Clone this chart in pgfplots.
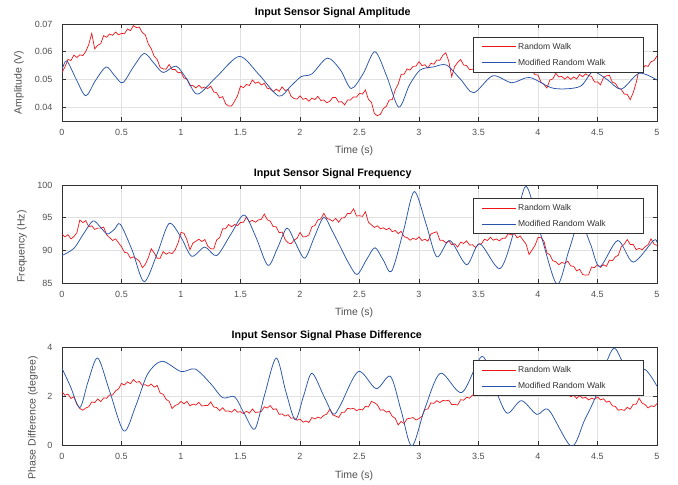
\documentclass[border=0pt]{standalone}
\usepackage{fontspec}
\setmainfont{Liberation Sans}
\usepackage{pgfplots}
\usepackage{pgfplotstable}
\pgfplotsset{compat=1.18}
\definecolor{rwred}{RGB}{240,20,25}
\definecolor{rwblue}{RGB}{40,85,170}
\definecolor{axgray}{RGB}{50,50,50}
\definecolor{labgray}{RGB}{80,80,80}
\definecolor{gridgray}{RGB}{225,225,225}

\pgfplotstableread[row sep=\\]{t v\\
0 0.0526\\ 0.025 0.0545\\ 0.05 0.0572\\ 0.075 0.0568\\ 0.1 0.0588\\ 0.125 0.0579\\ 0.15 0.0589\\ 0.175 0.0586\\ 0.2 0.0601\\ 0.225 0.0626\\
0.25 0.0666\\ 0.275 0.0610\\ 0.3 0.0623\\ 0.325 0.0629\\ 0.35 0.0658\\ 0.375 0.0652\\ 0.4 0.0664\\ 0.425 0.0659\\ 0.45 0.0671\\ 0.475 0.0661\\
0.5 0.0666\\ 0.525 0.0665\\ 0.55 0.0682\\ 0.575 0.0676\\ 0.6 0.0694\\ 0.625 0.0687\\ 0.65 0.0689\\ 0.675 0.0669\\ 0.7 0.0661\\ 0.725 0.0628\\
0.75 0.0611\\ 0.775 0.0583\\ 0.8 0.0572\\ 0.825 0.0543\\ 0.85 0.0538\\ 0.875 0.0537\\ 0.9 0.0554\\ 0.925 0.0536\\ 0.95 0.0536\\ 0.975 0.0524\\
1 0.0526\\ 1.025 0.0505\\ 1.05 0.0502\\ 1.075 0.0478\\ 1.1 0.0478\\ 1.125 0.0469\\ 1.15 0.0479\\ 1.175 0.0468\\ 1.2 0.0473\\ 1.225 0.0467\\
1.25 0.0476\\ 1.275 0.0455\\ 1.3 0.0452\\ 1.325 0.0433\\ 1.35 0.0438\\ 1.375 0.0412\\ 1.4 0.0404\\ 1.425 0.0404\\ 1.45 0.0421\\ 1.475 0.0441\\
1.5 0.0476\\ 1.525 0.0470\\ 1.55 0.0482\\ 1.575 0.0478\\ 1.6 0.0498\\ 1.625 0.0486\\ 1.65 0.0491\\ 1.675 0.0480\\ 1.7 0.0486\\ 1.725 0.0468\\
1.75 0.0466\\ 1.775 0.0456\\ 1.8 0.0465\\ 1.825 0.0457\\ 1.85 0.0473\\ 1.875 0.0460\\ 1.9 0.0464\\ 1.925 0.0439\\ 1.95 0.0431\\ 1.975 0.0429\\
2 0.0441\\ 2.025 0.0428\\ 2.05 0.0432\\ 2.075 0.0421\\ 2.1 0.0433\\ 2.125 0.0427\\ 2.15 0.0439\\ 2.175 0.0424\\ 2.2 0.0426\\ 2.225 0.0416\\
2.25 0.0421\\ 2.275 0.0435\\ 2.3 0.0435\\ 2.325 0.0418\\ 2.35 0.0420\\ 2.375 0.0408\\ 2.4 0.0426\\ 2.425 0.0426\\ 2.45 0.0437\\ 2.475 0.0436\\
2.5 0.0450\\ 2.525 0.0447\\ 2.55 0.0462\\ 2.575 0.0428\\ 2.6 0.0418\\ 2.625 0.0377\\ 2.65 0.0369\\ 2.675 0.0374\\ 2.7 0.0395\\ 2.725 0.0403\\
2.75 0.0426\\ 2.775 0.0427\\ 2.8 0.0462\\ 2.825 0.0483\\ 2.85 0.0518\\ 2.875 0.0519\\ 2.9 0.0538\\ 2.925 0.0534\\ 2.95 0.0547\\ 2.975 0.0548\\
3 0.0564\\ 3.025 0.0550\\ 3.05 0.0553\\ 3.075 0.0541\\ 3.1 0.0558\\ 3.125 0.0555\\ 3.15 0.0570\\ 3.175 0.0569\\ 3.2 0.0587\\ 3.225 0.0596\\
3.25 0.0566\\ 3.275 0.0510\\ 3.3 0.0547\\ 3.325 0.0561\\ 3.35 0.0572\\ 3.375 0.0552\\ 3.4 0.0550\\ 3.425 0.0535\\ 3.45 0.0537\\ 3.475 0.0533\\
3.5 0.0546\\ 3.525 0.0538\\ 3.55 0.0548\\ 3.575 0.0541\\ 3.6 0.0558\\ 3.625 0.0549\\ 3.65 0.0557\\ 3.675 0.0549\\ 3.7 0.0558\\ 3.725 0.0554\\
3.75 0.0566\\ 3.775 0.0553\\ 3.8 0.0557\\ 3.825 0.0546\\ 3.85 0.0558\\ 3.875 0.0545\\ 3.9 0.0549\\ 3.925 0.0531\\ 3.95 0.0531\\ 3.975 0.0517\\
4 0.0516\\ 4.025 0.0490\\ 4.05 0.0482\\ 4.075 0.0469\\ 4.1 0.0498\\ 4.125 0.0502\\ 4.15 0.0522\\ 4.175 0.0509\\ 4.2 0.0511\\ 4.225 0.0501\\
4.25 0.0510\\ 4.275 0.0500\\ 4.3 0.0509\\ 4.325 0.0502\\ 4.35 0.0518\\ 4.375 0.0510\\ 4.4 0.0520\\ 4.425 0.0514\\ 4.45 0.0511\\ 4.475 0.0491\\
4.5 0.0491\\ 4.525 0.0480\\ 4.55 0.0507\\ 4.575 0.0513\\ 4.6 0.0515\\ 4.625 0.0490\\ 4.65 0.0486\\ 4.675 0.0469\\ 4.7 0.0464\\ 4.725 0.0447\\
4.75 0.0446\\ 4.775 0.0427\\ 4.8 0.0452\\ 4.825 0.0488\\ 4.85 0.0536\\ 4.875 0.0535\\ 4.9 0.0550\\ 4.925 0.0547\\ 4.95 0.0564\\ 4.975 0.0568\\
5 0.0585\\
}\redA

\pgfplotstableread[row sep=\\]{t v\\
0 0.0534\\ 0.04 0.0567\\ 0.12 0.0500\\ 0.2 0.0441\\ 0.28 0.0495\\ 0.37 0.0545\\ 0.44 0.0515\\ 0.51 0.0488\\ 0.6 0.0545\\ 0.69 0.0594\\
0.77 0.0560\\ 0.85 0.0525\\ 0.96 0.0548\\ 1.05 0.0500\\ 1.14 0.0447\\ 1.3 0.0510\\ 1.49 0.0583\\ 1.65 0.0520\\ 1.82 0.0440\\ 1.92 0.0475\\
2.01 0.0510\\ 2.1 0.0520\\ 2.23 0.0577\\ 2.34 0.0534\\ 2.43 0.0467\\ 2.53 0.0520\\ 2.63 0.0600\\ 2.73 0.0510\\ 2.83 0.0400\\ 2.92 0.0480\\
3.01 0.0534\\ 3.12 0.0545\\ 3.23 0.0552\\ 3.35 0.0500\\ 3.46 0.0452\\ 3.62 0.0513\\ 3.78 0.0488\\ 3.93 0.0507\\ 4.13 0.0468\\ 4.35 0.0474\\
4.46 0.0527\\ 4.58 0.0500\\ 4.7 0.0465\\ 4.85 0.0522\\ 5 0.0498\\
}\blueA

\pgfplotstableread[row sep=\\]{t v\\
0 92.45\\ 0.025 92.05\\ 0.05 92.40\\ 0.075 91.75\\ 0.1 92.10\\ 0.125 92.70\\ 0.15 94.65\\ 0.175 94.25\\ 0.2 94.55\\ 0.225 93.60\\
0.25 93.75\\ 0.275 93.20\\ 0.3 93.40\\ 0.325 93.40\\ 0.35 93.55\\ 0.375 92.40\\ 0.4 91.95\\ 0.425 91.50\\ 0.45 91.75\\ 0.475 91.15\\
0.5 90.55\\ 0.525 89.70\\ 0.55 89.60\\ 0.575 88.80\\ 0.6 89.00\\ 0.625 88.70\\ 0.65 88.35\\ 0.675 87.35\\ 0.7 87.85\\ 0.725 88.85\\
0.75 90.25\\ 0.775 89.60\\ 0.8 88.80\\ 0.825 88.80\\ 0.85 89.80\\ 0.875 89.40\\ 0.9 89.65\\ 0.925 89.50\\ 0.95 90.05\\ 0.975 91.10\\
1 92.75\\ 1.025 92.60\\ 1.05 91.60\\ 1.075 90.10\\ 1.1 91.10\\ 1.125 91.40\\ 1.15 91.70\\ 1.175 91.35\\ 1.2 91.65\\ 1.225 90.65\\
1.25 90.25\\ 1.275 90.20\\ 1.3 91.60\\ 1.325 91.95\\ 1.35 93.30\\ 1.375 93.30\\ 1.4 93.95\\ 1.425 93.60\\ 1.45 93.95\\ 1.475 93.80\\
1.5 94.25\\ 1.525 94.30\\ 1.55 95.10\\ 1.575 94.35\\ 1.6 94.60\\ 1.625 94.30\\ 1.65 94.65\\ 1.675 94.75\\ 1.7 95.55\\ 1.725 94.70\\
1.75 94.45\\ 1.775 93.65\\ 1.8 93.60\\ 1.825 92.70\\ 1.85 92.80\\ 1.875 91.65\\ 1.9 91.15\\ 1.925 91.00\\ 1.95 91.55\\ 1.975 91.85\\
2 92.75\\ 2.025 92.05\\ 2.05 92.10\\ 2.075 92.35\\ 2.1 93.60\\ 2.125 93.80\\ 2.15 94.65\\ 2.175 94.80\\ 2.2 95.65\\ 2.225 94.90\\
2.25 94.75\\ 2.275 94.45\\ 2.3 94.90\\ 2.325 94.30\\ 2.35 94.95\\ 2.375 95.00\\ 2.4 95.65\\ 2.425 95.65\\ 2.45 96.35\\ 2.475 95.25\\
2.5 95.30\\ 2.525 95.20\\ 2.55 95.90\\ 2.575 94.30\\ 2.6 93.90\\ 2.625 93.50\\ 2.65 93.75\\ 2.675 93.30\\ 2.7 93.45\\ 2.725 93.15\\
2.75 93.40\\ 2.775 92.85\\ 2.8 93.05\\ 2.825 92.55\\ 2.85 92.90\\ 2.875 92.10\\ 2.9 91.95\\ 2.925 91.55\\ 2.95 91.85\\ 2.975 91.65\\
3 92.05\\ 3.025 91.50\\ 3.05 91.70\\ 3.075 91.40\\ 3.1 92.50\\ 3.125 92.70\\ 3.15 92.85\\ 3.175 91.55\\ 3.2 91.55\\ 3.225 91.15\\
3.25 91.45\\ 3.275 90.85\\ 3.3 91.00\\ 3.325 90.50\\ 3.35 91.25\\ 3.375 91.05\\ 3.4 91.45\\ 3.425 90.80\\ 3.45 90.85\\ 3.475 90.45\\
3.5 90.95\\ 3.525 91.00\\ 3.55 91.70\\ 3.575 91.50\\ 3.6 92.00\\ 3.625 91.55\\ 3.65 91.75\\ 3.675 91.45\\ 3.7 91.85\\ 3.725 91.85\\
3.75 92.55\\ 3.775 92.35\\ 3.8 92.60\\ 3.825 91.90\\ 3.85 92.20\\ 3.875 91.55\\ 3.9 90.95\\ 3.925 89.35\\ 3.95 90.05\\ 3.975 90.75\\
4 91.95\\ 4.025 92.00\\ 4.05 91.40\\ 4.075 89.60\\ 4.1 89.30\\ 4.125 88.40\\ 4.15 88.25\\ 4.175 87.80\\ 4.2 88.15\\ 4.225 88.00\\
4.25 88.35\\ 4.275 87.60\\ 4.3 87.55\\ 4.325 86.85\\ 4.35 87.10\\ 4.375 86.30\\ 4.4 86.20\\ 4.425 86.25\\ 4.45 87.45\\ 4.475 87.35\\
4.5 87.80\\ 4.525 87.40\\ 4.55 87.80\\ 4.575 87.55\\ 4.6 88.50\\ 4.625 88.40\\ 4.65 89.00\\ 4.675 89.25\\ 4.7 90.55\\ 4.725 90.95\\
4.75 91.65\\ 4.775 90.90\\ 4.8 90.90\\ 4.825 90.10\\ 4.85 90.30\\ 4.875 90.10\\ 4.9 90.55\\ 4.925 90.85\\ 4.95 91.75\\ 4.975 90.95\\
5 90.75\\
}\redB

\pgfplotstableread[row sep=\\]{t v\\
0 89.2\\ 0.1 90.3\\ 0.18 92.5\\ 0.26 94.5\\ 0.32 93.6\\ 0.38 92.5\\ 0.44 93.2\\ 0.49 94.0\\ 0.59 90.0\\ 0.69 85.2\\
0.8 89.5\\ 0.9 94.1\\ 1.0 92.0\\ 1.09 89.1\\ 1.2 90.5\\ 1.3 89.2\\ 1.42 92.5\\ 1.53 95.4\\ 1.63 92.0\\ 1.73 87.7\\
1.81 90.3\\ 1.89 93.4\\ 1.96 91.2\\ 2.04 88.8\\ 2.12 92.0\\ 2.2 95.05\\ 2.27 93.0\\ 2.34 90.5\\ 2.41 88.0\\ 2.48 86.3\\
2.56 88.6\\ 2.63 90.4\\ 2.7 88.5\\ 2.77 86.8\\ 2.87 93.0\\ 2.96 99.0\\ 3.06 94.0\\ 3.15 89.0\\ 3.26 91.5\\ 3.4 87.8\\
3.51 91.0\\ 3.68 87.2\\ 3.8 93.0\\ 3.9 99.8\\ 4.03 92.0\\ 4.16 84.8\\ 4.26 90.0\\ 4.35 94.5\\ 4.44 91.0\\ 4.52 87.5\\
4.67 91.5\\ 4.8 88.2\\ 4.97 91.5\\ 5 91.2\\
}\blueB

\pgfplotstableread[row sep=\\]{t v\\
0 2.16\\ 0.025 2.03\\ 0.05 2.08\\ 0.075 1.90\\ 0.1 1.97\\ 0.125 1.66\\ 0.15 1.49\\ 0.175 1.42\\ 0.2 1.51\\ 0.225 1.56\\
0.25 1.76\\ 0.275 1.73\\ 0.3 1.88\\ 0.325 1.77\\ 0.35 1.92\\ 0.375 1.91\\ 0.4 2.04\\ 0.425 2.04\\ 0.45 2.21\\ 0.475 2.29\\
0.5 2.51\\ 0.525 2.45\\ 0.55 2.58\\ 0.575 2.50\\ 0.6 2.67\\ 0.625 2.56\\ 0.65 2.59\\ 0.675 2.44\\ 0.7 2.46\\ 0.725 2.40\\
0.75 2.49\\ 0.775 2.36\\ 0.8 2.43\\ 0.825 2.12\\ 0.85 2.07\\ 0.875 1.86\\ 0.9 1.79\\ 0.925 1.49\\ 0.95 1.61\\ 0.975 1.66\\
1 1.78\\ 1.025 1.68\\ 1.05 1.78\\ 1.075 1.60\\ 1.1 1.67\\ 1.125 1.63\\ 1.15 1.74\\ 1.175 1.59\\ 1.2 1.61\\ 1.225 1.61\\
1.25 1.76\\ 1.275 1.55\\ 1.3 1.53\\ 1.325 1.40\\ 1.35 1.52\\ 1.375 1.38\\ 1.4 1.39\\ 1.425 1.34\\ 1.45 1.46\\ 1.475 1.34\\
1.5 1.36\\ 1.525 1.28\\ 1.55 1.38\\ 1.575 1.30\\ 1.6 1.47\\ 1.625 1.33\\ 1.65 1.34\\ 1.675 1.37\\ 1.7 1.56\\ 1.725 1.51\\
1.75 1.61\\ 1.775 1.45\\ 1.8 1.48\\ 1.825 1.25\\ 1.85 1.27\\ 1.875 1.18\\ 1.9 1.24\\ 1.925 1.09\\ 1.95 1.11\\ 1.975 1.01\\
2 1.06\\ 2.025 0.93\\ 2.05 0.98\\ 2.075 0.92\\ 2.1 1.12\\ 2.125 1.06\\ 2.15 1.14\\ 2.175 1.09\\ 2.2 1.21\\ 2.225 1.26\\
2.25 1.46\\ 2.275 1.23\\ 2.3 1.18\\ 2.325 1.12\\ 2.35 1.33\\ 2.375 1.34\\ 2.4 1.50\\ 2.425 1.47\\ 2.45 1.50\\ 2.475 1.40\\
2.5 1.46\\ 2.525 1.43\\ 2.55 1.58\\ 2.575 1.55\\ 2.6 1.78\\ 2.625 1.73\\ 2.65 1.64\\ 2.675 1.42\\ 2.7 1.44\\ 2.725 1.34\\
2.75 1.38\\ 2.775 1.17\\ 2.8 1.09\\ 2.825 0.82\\ 2.85 0.96\\ 2.875 0.88\\ 2.9 1.07\\ 2.925 1.09\\ 2.95 1.12\\ 2.975 1.02\\
3 1.08\\ 3.025 1.17\\ 3.05 1.45\\ 3.075 1.47\\ 3.1 1.72\\ 3.125 1.70\\ 3.15 1.81\\ 3.175 1.73\\ 3.2 1.82\\ 3.225 1.80\\
3.25 1.83\\ 3.275 1.65\\ 3.3 1.66\\ 3.325 1.63\\ 3.35 1.85\\ 3.375 1.83\\ 3.4 1.95\\ 3.425 1.91\\ 3.45 2.04\\ 3.475 2.01\\
3.5 2.12\\ 3.525 2.02\\ 3.55 2.11\\ 3.575 2.01\\ 3.6 2.17\\ 3.625 2.09\\ 3.65 2.15\\ 3.675 2.06\\ 3.7 2.13\\ 3.725 2.09\\
3.75 2.20\\ 3.775 2.09\\ 3.8 2.18\\ 3.825 2.06\\ 3.85 2.20\\ 3.875 2.10\\ 3.9 2.16\\ 3.925 2.05\\ 3.95 2.11\\ 3.975 2.07\\
4 2.18\\ 4.025 2.08\\ 4.05 2.16\\ 4.075 2.06\\ 4.1 2.22\\ 4.125 2.11\\ 4.15 2.15\\ 4.175 2.03\\ 4.2 2.09\\ 4.225 2.02\\
4.25 2.10\\ 4.275 1.97\\ 4.3 2.03\\ 4.325 1.90\\ 4.35 2.02\\ 4.375 1.91\\ 4.4 1.95\\ 4.425 1.84\\ 4.45 1.91\\ 4.475 1.86\\
4.5 1.96\\ 4.525 1.84\\ 4.55 1.89\\ 4.575 1.75\\ 4.6 1.79\\ 4.625 1.60\\ 4.65 1.57\\ 4.675 1.42\\ 4.7 1.45\\ 4.725 1.41\\
4.75 1.54\\ 4.775 1.46\\ 4.8 1.66\\ 4.825 1.66\\ 4.85 1.91\\ 4.875 1.71\\ 4.9 1.65\\ 4.925 1.51\\ 4.95 1.60\\ 4.975 1.57\\
5 1.69\\
}\redC

\pgfplotstableread[row sep=\\]{t v\\
0 3.13\\ 0.07 2.4\\ 0.15 1.53\\ 0.22 2.6\\ 0.3 3.55\\ 0.4 2.2\\ 0.52 0.57\\ 0.62 1.6\\ 0.72 2.9\\ 0.84 3.42\\
1.0 3.0\\ 1.12 3.1\\ 1.25 2.5\\ 1.35 1.93\\ 1.45 1.97\\ 1.53 1.3\\ 1.62 0.65\\ 1.7 2.0\\ 1.8 3.55\\ 1.88 2.2\\
1.96 1.03\\ 2.03 2.0\\ 2.1 2.93\\ 2.2 2.0\\ 2.28 1.26\\ 2.34 1.63\\ 2.49 3.0\\ 2.64 2.3\\ 2.76 2.8\\ 2.85 1.4\\
2.94 -0.05\\ 3.05 1.5\\ 3.18 2.93\\ 3.36 2.14\\ 3.53 3.62\\ 3.64 2.3\\ 3.74 1.3\\ 3.86 1.81\\ 3.99 1.25\\ 4.09 1.43\\
4.28 -0.05\\ 4.39 1.0\\ 4.49 2.04\\ 4.57 3.3\\ 4.64 3.96\\ 4.71 3.4\\ 4.78 2.9\\ 4.9 3.08\\ 5 2.4\\
}\blueC

\pgfplotsset{
  msty/.style={
    scale only axis, width=595pt, height=98pt,
    xmin=0, xmax=5,
    xtick={0,0.5,1,1.5,2,2.5,3,3.5,4,4.5,5},
    xticklabels={0,0.5,1,1.5,2,2.5,3,3.5,4,4.5,5},
    scaled ticks=false,
    grid=major, major grid style={gridgray, line width=0.6pt},
    axis line style={axgray, line width=0.5pt},
    tick style={axgray, line width=0.5pt},
    tick align=inside, major tick length=4pt,
    ticklabel style={font=\fontsize{9}{10}\selectfont, text=labgray},
    yticklabel style={xshift=-6pt},
    xticklabel style={yshift=-5pt},
    /pgf/number format/assume math mode=true,
    xlabel={Time (s)},
    xlabel style={at={(axis description cs:0.491,0)}, anchor=base, yshift=-33pt, font=\fontsize{10.5}{12}\selectfont, text=labgray},
    ylabel style={anchor=center, font=\fontsize{10.5}{12}\selectfont, text=labgray},
    title style={anchor=base, yshift=8.5pt, font=\bfseries\fontsize{10.7}{12}\selectfont, text=black},
    legend style={at={(0.691,0.866)}, anchor=north west, draw=axgray, line width=0.5pt, fill=white,
      font=\fontsize{8.5}{10}\selectfont, text=axgray,
      inner xsep=8pt, inner ysep=3.5pt, row sep=4pt,
      nodes={inner sep=2pt, text height=6.5pt, text depth=1.5pt}},
    legend cell align=left,
    legend image code/.code={\draw[#1] (0pt,0pt) -- (34pt,0pt);},
    clip=true,
  },
  redline/.style={rwred, line width=0.7pt},
  blueline/.style={rwblue, line width=0.75pt, smooth},
}

\begin{document}
\begin{tikzpicture}
\path[use as bounding box] (0,0) rectangle (678pt,485pt);

\begin{axis}[msty, at={(62pt,364pt)}, anchor=south west, height=97pt,
  ymin=0.035, ymax=0.07, ytick={0.04,0.05,0.06,0.07}, yticklabels={0.04,0.05,0.06,0.07},
  ylabel={Amplitude (V)}, ylabel style={at={(axis description cs:-0.0723,0.397)}},
  title={Input Sensor Signal Amplitude}, title style={at={(axis description cs:0.455,0.938)}}]
\addplot[redline] table[x=t,y=v] {\redA};
\addlegendentry{\makebox[115pt][l]{Random Walk}}
\addplot[blueline] table[x=t,y=v] {\blueA};
\addlegendentry{\makebox[115pt][l]{Modified Random Walk}}
\end{axis}

\begin{axis}[msty, at={(62pt,202pt)}, anchor=south west,
  ymin=85, ymax=100, ytick={85,90,95,100}, yticklabels={85,90,95,100},
  ylabel={Frequency (Hz)}, ylabel style={at={(axis description cs:-0.0672,0.372)}},
  title={Input Sensor Signal Frequency}, title style={at={(axis description cs:0.455,0.939)}}]
\addplot[redline] table[x=t,y=v] {\redB};
\addlegendentry{\makebox[115pt][l]{Random Walk}}
\addplot[blueline] table[x=t,y=v] {\blueB};
\addlegendentry{\makebox[115pt][l]{Modified Random Walk}}
\end{axis}

\begin{axis}[msty, at={(62pt,40pt)}, anchor=south west,
  ymin=0, ymax=4, ytick={0,2,4}, yticklabels={0,2,4},
  ylabel={Phase Difference (degree)}, ylabel style={at={(axis description cs:-0.0487,0.28)}},
  title={Input Sensor Signal Phase Difference}, title style={at={(axis description cs:0.445,0.939)}}]
\addplot[redline] table[x=t,y=v] {\redC};
\addlegendentry{\makebox[115pt][l]{Random Walk}}
\addplot[blueline] table[x=t,y=v] {\blueC};
\addlegendentry{\makebox[115pt][l]{Modified Random Walk}}
\end{axis}
\end{tikzpicture}
\end{document}
